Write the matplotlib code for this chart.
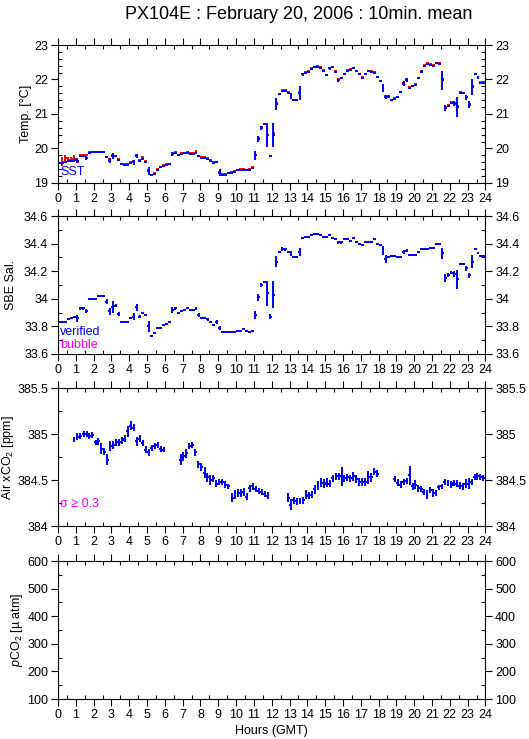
import matplotlib
matplotlib.use("Agg")
from matplotlib import pyplot as plt
from matplotlib.ticker import MultipleLocator
import numpy as np

plt.rcParams['font.family'] = ['Liberation Sans', 'DejaVu Sans']
plt.rcParams['mathtext.fontset'] = 'custom'
plt.rcParams['mathtext.rm'] = 'Liberation Sans'
plt.rcParams['mathtext.it'] = 'Liberation Sans:italic'

# 10-minute bins, hour of day at bin centre
hours = (np.arange(144) + 0.5) / 6.0
half_bin = 1.0 / 12.0

# --- Temperature [degC] ---
sst = [19.57, 19.58, 19.60, 19.63, 19.65, 19.68, 19.65, 19.78, 19.78, 19.72, 19.88, 19.90,
       19.90, 19.90, 19.90, 19.90, 19.74, 19.65, 19.78, 19.78, 19.67, 19.55, 19.53, 19.53,
       19.58, 19.60, 19.78, 19.63, 19.70, 19.62, 19.35, 19.22, 19.27, 19.38, 19.45, 19.50,
       19.53, 19.54, 19.84, 19.88, 19.80, 19.84, 19.86, 19.88, 19.85, 19.84, 19.88, 19.77,
       19.73, 19.73, 19.70, 19.65, 19.58, 19.60, 19.30, 19.23, 19.24, 19.28, 19.30, 19.33,
       19.37, 19.37, 19.37, 19.37, 19.38, 19.44, 19.80, 20.28, 20.60, 20.70, 20.38, 19.77,
       20.40, 21.30, 21.57, 21.68, 21.68, 21.62, 21.52, 21.40, 21.40, 21.62, 22.15, 22.20,
       22.23, 22.30, 22.35, 22.36, 22.33, 22.25, 22.12, 22.32, 22.35, 22.22, 21.98, 22.03,
       22.15, 22.25, 22.27, 22.32, 22.24, 22.15, 22.04, 22.15, 22.24, 22.22, 22.20, 22.06,
       21.97, 21.75, 21.50, 21.50, 21.40, 21.43, 21.48, 21.63, 21.88, 21.98, 21.75, 21.80,
       21.84, 22.03, 22.23, 22.40, 22.45, 22.43, 22.40, 22.47, 22.45, 21.98, 21.18, 21.23,
       21.33, 21.30, 21.20, 21.62, 21.60, 21.48, 21.27, 21.78, 22.15, 22.05, 21.90, 21.90]
sst_err = [.02, .02, .02, .02, .02, .02, .08, .03, .03, .06, .02, .02,
           .02, .02, .02, .02, .03, .06, .08, .03, .03, .02, .02, .02,
           .02, .08, .05, .03, .02, .03, .12, .03, .02, .02, .02, .02,
           .02, .02, .05, .03, .03, .02, .02, .02, .02, .03, .02, .03,
           .02, .02, .02, .03, .02, .03, .10, .03, .02, .02, .02, .02,
           .02, .02, .02, .02, .02, .03, .12, .08, .05, .03, .35, .03,
           .35, .17, .03, .03, .03, .03, .08, .02, .02, .20, .04, .02,
           .02, .02, .02, .02, .02, .02, .03, .05, .03, .04, .04, .03,
           .02, .02, .02, .02, .02, .02, .02, .02, .02, .02, .02, .02,
           .02, .12, .06, .05, .03, .03, .02, .03, .08, .05, .03, .02,
           .02, .03, .04, .02, .02, .02, .02, .02, .03, .28, .08, .03,
           .03, .08, .30, .03, .02, .08, .10, .22, .02, .04, .03, .02]
teq = [19.58, 19.62, 19.72, 19.68, 19.70, 19.70, 19.60, 19.80, 19.80, 19.80, 19.90, 19.91,
       19.91, 19.91, 19.91, 19.91, 19.76, 19.70, 19.80, 19.79, 19.69, 19.56, 19.55, 19.55,
       19.60, 19.63, 19.80, 19.66, 19.74, 19.64, 19.37, 19.24, 19.29, 19.40, 19.47, 19.52,
       19.55, 19.56, 19.86, 19.90, 19.82, 19.86, 19.88, 19.90, 19.87, 19.86, 19.92, 19.79,
       19.75, 19.75, 19.72, 19.67, 19.60, 19.62, 19.33, 19.25, 19.26, 19.30, 19.32, 19.35,
       19.39, 19.40, 19.40, 19.39, 19.40, 19.46, 19.82, 20.30, 20.63, 20.72, 20.40, 19.79,
       20.45, 21.32, 21.59, 21.70, 21.70, 21.64, 21.54, 21.42, 21.42, 21.64, 22.17, 22.22,
       22.25, 22.32, 22.37, 22.38, 22.35, 22.27, 22.14, 22.34, 22.37, 22.24, 22.00, 22.05,
       22.17, 22.27, 22.29, 22.34, 22.26, 22.17, 22.06, 22.17, 22.26, 22.24, 22.22, 22.08,
       np.nan, 21.77, 21.52, 21.52, 21.42, 21.45, 21.50, 21.65, 21.90, 22.00, 21.77, 21.82,
       21.86, 22.05, 22.25, 22.42, 22.47, 22.45, 22.42, 22.49, 22.47, 22.00, 21.20, 21.25,
       21.35, 21.32, 21.22, 21.64, 21.62, 21.50, 21.29, 21.80, np.nan, 22.07, 21.92, 21.92]
teq_err = [0.0, 0.12, 0.10, 0.08, 0.04, 0.10] + [0.0] * 138

# --- Salinity ---
sal = [33.83, 33.83, 33.83, 33.85, 33.86, 33.87, 33.86, 33.93, 33.93, 33.91, 34.00, 34.00,
       34.00, 34.02, 34.02, 34.02, 33.98, 33.91, 33.94, 33.95, 33.89, 33.83, 33.83, 33.83,
       33.86, 33.87, 33.94, 33.87, 33.90, 33.88, 33.80, 33.73, 33.75, 33.79, 33.79, 33.81,
       33.82, 33.83, 33.92, 33.93, 33.90, 33.91, 33.92, 33.93, 33.92, 33.92, 33.93, 33.88,
       33.86, 33.86, 33.85, 33.83, 33.81, 33.83, 33.79, 33.76, 33.76, 33.76, 33.76, 33.76,
       33.77, 33.77, 33.78, 33.77, 33.76, 33.77, 33.88, 34.01, 34.10, 34.12, 34.04, 33.87,
       34.03, 34.27, 34.34, 34.36, 34.36, 34.34, 34.33, 34.30, 34.30, 34.34, 34.44, 34.45,
       34.45, 34.46, 34.47, 34.47, 34.46, 34.45, 34.45, 34.46, 34.44, 34.43, 34.41, 34.41,
       34.43, 34.43, 34.42, 34.44, 34.41, 34.40, 34.39, 34.41, 34.41, 34.41, 34.43, 34.40,
       34.39, 34.35, 34.29, 34.30, 34.31, 34.31, 34.30, 34.30, 34.34, 34.35, 34.32, 34.32,
       34.32, 34.34, 34.36, 34.36, 34.36, 34.37, 34.37, 34.40, 34.40, 34.33, 34.15, 34.17,
       34.19, 34.18, 34.14, 34.25, 34.25, 34.22, 34.17, 34.27, 34.36, 34.33, 34.31, 34.31]
sal_err = [.004, .004, .004, .005, .005, .006, .025, .01, .01, .015, .004, .004,
           .004, .005, .005, .005, .015, .025, .045, .01, .015, .005, .004, .004,
           .008, .025, .025, .01, .006, .006, .04, .005, .005, .008, .005, .005,
           .005, .005, .02, .008, .006, .005, .005, .005, .005, .006, .008, .015,
           .005, .005, .008, .008, .005, .015, .015, .005, .004, .004, .004, .004,
           .004, .004, .004, .004, .004, .006, .03, .025, .015, .008, .09, .02,
           .10, .04, .01, .015, .01, .008, .02, .005, .005, .03, .01, .006,
           .006, .005, .005, .005, .005, .005, .005, .006, .006, .006, .01, .01,
           .006, .005, .005, .006, .006, .008, .008, .005, .005, .005, .006, .006,
           .005, .03, .03, .006, .005, .005, .006, .006, .015, .008, .006, .006,
           .006, .008, .006, .005, .005, .005, .005, .006, .006, .04, .03, .015,
           .01, .02, .07, .005, .008, .02, .02, .05, .008, .008, .006, .006]

# --- Air xCO2 [ppm] ---
air_hours = [0.90, 1.09, 1.25, 1.44, 1.61, 1.76, 1.93, 2.12, 2.27, 2.43, 2.60, 2.77,
             2.94, 3.11, 3.28, 3.45, 3.61, 3.76, 3.91, 4.08, 4.25, 4.42, 4.59, 4.76,
             4.93, 5.09, 5.26, 5.43, 5.60, 5.77, 5.94,
             6.89, 7.04, 7.21, 7.38, 7.55, 7.72, 7.88, 8.05, 8.24, 8.39, 8.56, 8.73,
             8.90, 9.06, 9.23, 9.40, 9.57, 9.78, 9.94, 10.11, 10.26, 10.43, 10.60, 10.77,
             10.94, 11.10, 11.27, 11.44, 11.61, 11.78,
             12.93, 13.08, 13.25, 13.42, 13.59, 13.76, 13.93, 14.09, 14.26, 14.43, 14.60, 14.77,
             14.94, 15.10, 15.27, 15.44, 15.61, 15.76, 15.93, 16.08, 16.25, 16.41, 16.58, 16.75,
             16.92, 17.09, 17.26, 17.42, 17.59, 17.76, 17.93,
             18.92, 19.07, 19.24, 19.41, 19.58, 19.74, 19.91, 20.06, 20.23, 20.40, 20.55, 20.72,
             20.89, 21.06, 21.22, 21.39, 21.56, 21.73, 21.90, 22.07, 22.23, 22.40, 22.57, 22.72,
             22.89, 23.06, 23.23, 23.40, 23.55, 23.71, 23.88]
air_xco2 = [384.94, 384.97, 384.98, 385.00, 385.00, 384.98, 384.99, 384.91, 384.92, 384.84, 384.81, 384.72,
            384.87, 384.88, 384.91, 384.91, 384.93, 384.95, 385.03, 385.09, 385.07, 384.92, 384.95, 384.90,
            384.83, 384.80, 384.85, 384.87, 384.88, 384.84, 384.83,
            384.72, 384.76, 384.79, 384.87, 384.88, 384.80, 384.67, 384.64, 384.58, 384.53, 384.50, 384.52,
            384.46, 384.48, 384.48, 384.45, 384.43, 384.31, 384.34, 384.36, 384.36, 384.37, 384.32, 384.41,
            384.43, 384.40, 384.38, 384.37, 384.35, 384.33,
            384.31, 384.23, 384.28, 384.27, 384.27, 384.28, 384.34, 384.33, 384.34, 384.40, 384.44, 384.47,
            384.46, 384.47, 384.46, 384.52, 384.54, 384.54, 384.54, 384.52, 384.53, 384.52, 384.54, 384.51,
            384.48, 384.48, 384.48, 384.53, 384.53, 384.59, 384.57,
            384.51, 384.47, 384.45, 384.48, 384.49, 384.55, 384.43, 384.45, 384.41, 384.40, 384.37, 384.34,
            384.39, 384.36, 384.36, 384.42, 384.43, 384.48, 384.47, 384.45, 384.47, 384.46, 384.44, 384.43,
            384.46, 384.46, 384.48, 384.53, 384.54, 384.53, 384.52]
air_err = [.03, .04, .035, .03, .03, .035, .03, .03, .035, .06, .04, .06,
           .05, .04, .035, .04, .035, .035, .06, .05, .04, .05, .04, .035,
           .035, .04, .035, .035, .035, .035, .03,
           .06, .05, .05, .035, .035, .04, .035, .04, .06, .05, .05, .04,
           .035, .035, .035, .035, .03, .05, .05, .04, .04, .04, .035, .035,
           .035, .03, .035, .035, .035, .035,
           .05, .06, .04, .04, .035, .04, .05, .04, .04, .05, .05, .05,
           .05, .05, .04, .04, .04, .04, .10, .04, .04, .04, .05, .04,
           .04, .04, .04, .07, .05, .04, .035,
           .035, .04, .035, .035, .035, .10, .035, .05, .035, .035, .035, .05,
           .035, .04, .035, .03, .03, .035, .035, .035, .035, .035, .035, .035,
           .05, .06, .035, .035, .035, .035, .03]

hour_ticks = list(range(25))

BLUE = (0, 0, 1)
RED = (1, 0, 0)
MAGENTA = (1, 0, 1)
FS = 9


def style_axis(ax, ylim, major, minor, label, label_x):
    ax.set_xlim(0, 24)
    ax.set_ylim(*ylim)
    ax.set_xticks(hour_ticks)
    ax.set_xticklabels([str(h) for h in hour_ticks])
    ax.xaxis.set_minor_locator(MultipleLocator(0.5))
    ax.yaxis.set_major_locator(MultipleLocator(major))
    ax.yaxis.set_minor_locator(MultipleLocator(minor))
    ax.yaxis.set_major_formatter(lambda v, pos: f"{v:g}")
    ax.tick_params(which='major', direction='out', length=5, width=0.8,
                   labelsize=FS, top=True, right=True, labelright=True, pad=2)
    ax.tick_params(which='minor', direction='in', length=3, width=0.8,
                   top=True, right=True)
    for s in ax.spines.values():
        s.set_linewidth(0.8)
    # label_x is where the right edge of the rotated label sits
    ax.set_ylabel(label, fontsize=FS)
    ax.yaxis.set_label_coords(label_x, 0.5)


fig = plt.figure(figsize=(5.29, 7.39), dpi=100)
left, width, height = 0.1096, 0.808, 0.1867
bottoms = [0.7524, 0.5210, 0.2882, 0.0541]
axes = [fig.add_axes([left, b, width, height]) for b in bottoms]

# Temperature
ax = axes[0]
ax.errorbar(hours, teq, xerr=half_bin, yerr=teq_err, fmt='none', ecolor=RED, elinewidth=1.4)
ax.errorbar(hours, sst, xerr=half_bin, yerr=sst_err, fmt='none', ecolor=BLUE, elinewidth=1.4)
style_axis(ax, (19, 23), 1, 0.2, "Temp. [°C]", -0.061)
ax.text(0.15, 19.32, "SST", color=BLUE, fontsize=FS, va='center')

# Salinity
ax = axes[1]
ax.errorbar(hours, sal, xerr=half_bin, yerr=sal_err, fmt='none', ecolor=BLUE, elinewidth=1.4)
style_axis(ax, (33.6, 34.6), 0.2, 0.1, "SBE Sal.", -0.096)
ax.text(0.1, 33.76, "verified", color=BLUE, fontsize=FS, va='center')
ax.text(0.1, 33.665, "bubble", color=MAGENTA, fontsize=FS, va='center')

# Air xCO2
ax = axes[2]
ax.errorbar(air_hours, air_xco2, xerr=half_bin, yerr=air_err, fmt='none', ecolor=BLUE, elinewidth=1.4)
style_axis(ax, (384, 385.5), 0.5, 0.25, "Air xCO$_2$ [ppm]", -0.098)
ax.text(0.1, 384.24, "σ ≥ 0.3", color=MAGENTA, fontsize=FS, va='center')

# pCO2 (no data)
ax = axes[3]
style_axis(ax, (100, 600), 100, 50, "$\\it{p}$CO$_2$ [µ atm]", -0.077)
ax.set_xlabel("Hours (GMT)", fontsize=FS, labelpad=3)

fig.text(0.565, 0.98, "PX104E : February 20, 2006 : 10min. mean",
         ha='center', va='center', fontsize=13)

fig.savefig("out.png", dpi=100)
